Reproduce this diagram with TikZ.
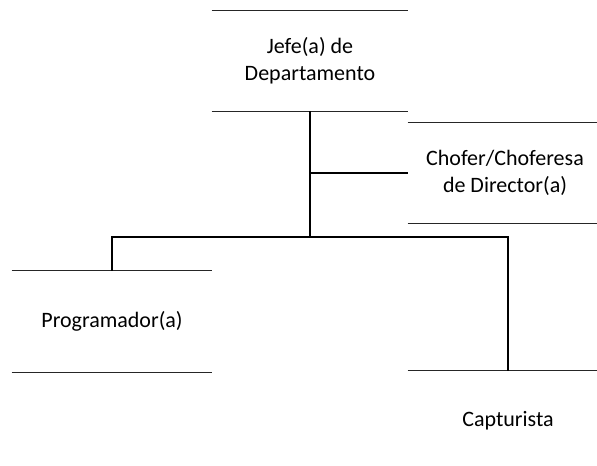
\documentclass[tikz,border=0pt]{standalone}
\usepackage{fontspec}
\setmainfont{Carlito}
\usepackage{tikz}

\begin{document}
\begin{tikzpicture}[
        x=0.5pt, y=-0.5pt,
        puesto/.style={
            % The shape:
            rectangle,
            % The size:
            inner sep=0pt,
            minimum width=100pt,
            minimum height=50pt,
            % Text
            align=center,
            font=\fontsize{11}{13.5}\selectfont
        },
        borde/.style={
            line width=0.6pt,
            draw=black!85
        },
        conector/.style={
            line width=1pt,
            draw=black
        }]

        \clip (0,0) rectangle (597,465);
        \fill[white] (0,0) rectangle (597,465);

        % The positions
        \node [puesto, minimum width=98pt] (jefe) at (310,61) {Jefe(a) de\\Departamento};
        \node [puesto, minimum width=97pt] (chofer) at (505,173) {Chofer/Choferesa\\de Director(a)};
        \node [puesto, minimum height=50.5pt] (prog) at (112,321.5) {Programador(a)};
        \node [puesto] (captur) at (508,421) {Capturista};

        \foreach \n in {jefe, chofer, prog, captur}
        {
            \draw [borde] (\n.north west) -- (\n.north east);
            \draw [borde] (\n.south west) -- (\n.south east);
        }

        \coordinate (barra) at (310,237);

        \draw [conector] (jefe.south) -- (barra);
        \draw [conector, line width=0.6pt] (jefe.south) |- (chofer.west);
        \draw [conector] (prog.north) |- (barra);
        \draw [conector] (barra) -| (captur.north);

    \end{tikzpicture}
\end{document}
